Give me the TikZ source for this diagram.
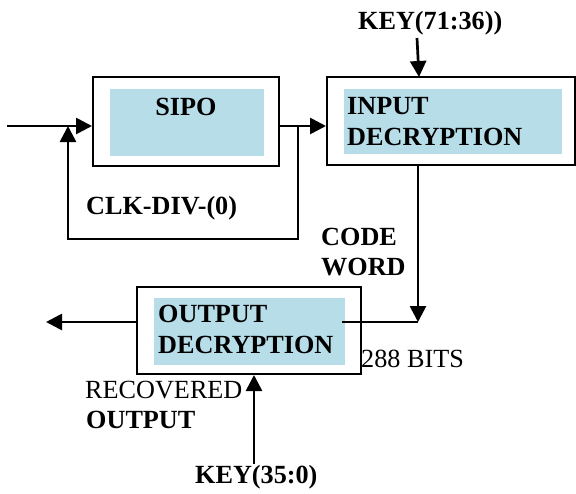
\documentclass[tikz,border=0pt]{standalone}
\usepackage{fontspec}
\setmainfont{Liberation Serif}
\usetikzlibrary{arrows.meta}
\definecolor{boxfill}{HTML}{B7DDE8}
\tikzset{
  outerbox/.style={draw=black, line width=2pt, fill=white, inner sep=0pt},
  fillbox/.style={fill=boxfill, draw=none, inner sep=0pt},
  lbl/.style={inner sep=0pt, anchor=base west, font=\fontsize{26.2}{30}\selectfont\bfseries},
  rlbl/.style={inner sep=0pt, anchor=base west, font=\fontsize{26.2}{30}\selectfont},
  wire/.style={line width=2.5pt},
  thinwire/.style={line width=1.5pt},
  arr/.style={line width=2.7pt, -{Triangle[length=16pt,width=16pt]}},
}
\begin{document}
\begin{tikzpicture}[x=1pt,y=-1pt]
\useasboundingbox (0,0) rectangle (576,493);
% boxes
\node[outerbox, minimum width=186pt, minimum height=89pt] (sipoB) at (186,121.5) {};
\node[fillbox, minimum width=154pt, minimum height=67pt] (sipoF) at (187,122.5) {};
\node[outerbox, minimum width=248pt, minimum height=88pt] (inB) at (451,121) {};
\node[fillbox, minimum width=218pt, minimum height=65pt] (inF) at (453,121.5) {};
\node[outerbox, minimum width=224pt, minimum height=87pt] (outB) at (249,330.5) {};
\node[fillbox, minimum width=191pt, minimum height=67pt] (outF) at (249.5,331.5) {};
% texts
\node[lbl, anchor=base] (tsipo) at (186,115) {SIPO};
\node[lbl] (tin1) at (347,114) {INPUT};
\node[lbl] (tin2) at (347,145) {DECRYPTION};
\node[lbl] (tkey1) at (358,29) {KEY(71:36))};
\node[lbl] (tclk) at (86,214) {CLK-DIV-(0)};
\node[lbl] (tcode) at (321,245) {CODE};
\node[lbl] (tword) at (321,275) {WORD};
\node[lbl] (tout1) at (158,322) {OUTPUT};
\node[lbl] (tout2) at (158,353) {DECRYPTION};
\node[rlbl] (tbits) at (361,367) {288 BITS};
\node[rlbl] (trec) at (85,398) {RECOVERED};
\node[lbl] (trec2) at (86,428) {OUTPUT};
\node[lbl] (tkey2) at (195,483) {KEY(35:0)};
% connectors
\coordinate (in) at (7,126);
\draw[arr] (in) -- (in -| sipoB.west);
\coordinate (fb1) at (298,126);
\coordinate (fb2) at (298,239);
\coordinate (fb3) at (68,239);
\coordinate (fb4) at (68,126);
\draw[arr] (fb1) -- (fb2) -- (fb3) -- (fb4);
\draw[arr] (in -| sipoB.east) -- (in -| inB.west);
\coordinate (k1) at (417,38);
\coordinate (k1e) at (419,77);
\draw[arr] (k1) -- (k1e);
\coordinate (cw1) at (418,165);
\coordinate (cw2) at (418,322);
\coordinate (cw3) at (342,322);
\draw[arr] (cw1) -- (cw2);
\draw[thinwire] (cw2) -- (cw3);
\coordinate (o1) at (46,322);
\draw[arr] (o1 -| outB.west) -- (o1);
\coordinate (kb) at (254,464);
\draw[arr] (kb) -- (kb |- outB.south);
\end{tikzpicture}
\end{document}
